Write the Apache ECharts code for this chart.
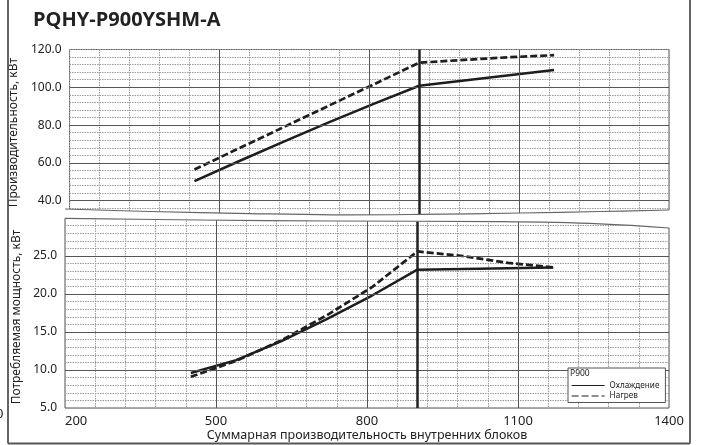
<!DOCTYPE html>
<html><head><meta charset="utf-8">
<script src="https://cdn.jsdelivr.net/npm/echarts@6/dist/echarts.min.js"></script>
<style>html,body{margin:0;padding:0;background:#fff}#c{width:701px;height:445px}</style>
</head><body><div id="c"></div>
<script>
// ---- data ----
const title = 'PQHY-P900YSHM-A';
const xValues = [450, 540, 630, 720, 810, 900, 990, 1080, 1170];
const capCooling = [50.4, 61.0, 71.4, 81.6, 91.4, 100.8, 103.6, 106.4, 109.2];
const capHeating = [56.5, 67.8, 79.1, 90.4, 101.7, 113.0, 114.5, 115.9, 117.0];
const powCooling = [9.6, 11.3, 13.8, 16.7, 19.8, 23.2, 23.3, 23.4, 23.5];
const powHeating = [9.1, 11.2, 13.9, 17.2, 20.9, 25.6, 25.0, 24.1, 23.5];
const xTicks = [200, 500, 800, 1100, 1400];
const capTicks = [40, 60, 80, 100, 120];
const powTicks = [5, 10, 15, 20, 25];
const modelCapacity = 900;
const seriesNames = ['Охлаждение', 'Нагрев'];
const legendTitle = 'P900';
const xName = 'Суммарная производительность внутренних блоков';
const capName = 'Производительность, кВт';
const powName = 'Потребляемая мощность, кВт';

// ---- build ----
const X0 = xTicks[0];
const XMAX = xTicks[xTicks.length - 1];
const pairs = ys => xValues.map((x, i) => [x - X0, ys[i]]);
const FONT = 'Noto Sans';
const dotted = {color: '#9c9c9c', width: 1, type: [1.5, 1]};
const major = {color: '#555', width: 1, type: 'solid'};
const thick = {color: '#222', width: 2.5, type: 'solid'};

function xMarks() {
  return xTicks.slice(1, -1).map(v => ({xAxis: v - X0, lineStyle: major}))
    .concat([{xAxis: modelCapacity - X0, lineStyle: thick}]);
}
function helper(xi, ys, yTicksInner) {
  return {
    type: 'line', xAxisIndex: xi, yAxisIndex: xi, data: pairs(ys), z: 1,
    symbol: 'none', silent: true, lineStyle: {opacity: 0}, tooltip: {show: false},
    markLine: {
      silent: true, symbol: 'none', label: {show: false}, animation: false,
      data: yTicksInner.map(v => ({yAxis: v, lineStyle: major})).concat(xMarks())
    }
  };
}
function dataSeries(xi, name, ys, dashed) {
  return {
    type: 'line', name: name, xAxisIndex: xi, yAxisIndex: xi, data: pairs(ys), z: 3,
    symbol: 'none', smooth: false,
    lineStyle: {color: '#1e1e1e', width: dashed ? 2.7 : 2.5, type: dashed ? [7, 3] : 'solid'},
    itemStyle: {color: '#1e1e1e'}
  };
}
function xAxisCfg(gi, showLabels) {
  return {
    gridIndex: gi, type: 'value', min: 0, max: XMAX - X0, interval: 60,
    axisLine: {show: false}, axisTick: {show: false},
    splitLine: {show: true, lineStyle: dotted},
    axisLabel: {
      show: showLabels, margin: 7, fontSize: 13, color: '#222', fontFamily: FONT,
      alignMinLabel: 'left',
      formatter: v => (xTicks.indexOf(v + X0) >= 0 ? String(v + X0) : '')
    },
    name: showLabels ? xName : '', nameLocation: 'middle', nameGap: 20,
    nameTextStyle: {fontSize: 12.5, color: '#222', fontFamily: FONT}
  };
}

const L = 65, R = 669;
const chart = echarts.init(document.getElementById('c'), null, {renderer: 'canvas'});
const topCurve = [[L, 209], [150, 211.5], [250, 213.6], [333, 214.8], [420, 214.4], [520, 213], [600, 211.5], [R, 210]];
const botCurve = [[L, 218.3], [200, 220], [333, 221], [500, 221.7], [600, 223.8], [R, 228]];
const cover = topCurve.concat(botCurve.slice().reverse()).map(p => p.slice());
cover[0][0] = L - 1; cover[topCurve.length - 1][0] = R + 1;
cover[topCurve.length][0] = R + 1; cover[cover.length - 1][0] = L - 1;

chart.setOption({
  animation: false,
  textStyle: {fontFamily: FONT},
  grid: [
    {left: L, right: 701 - R, top: 49.5, height: 166.3, show: true, borderColor: '#555', borderWidth: 1, backgroundColor: 'transparent'},
    {left: L, right: 701 - R, top: 218, height: 190, show: true, borderColor: '#555', borderWidth: 1, backgroundColor: 'transparent'}
  ],
  xAxis: [xAxisCfg(0, false), xAxisCfg(1, true)],
  yAxis: [
    {
      gridIndex: 0, type: 'value', min: 32, max: 120, interval: 4,
      axisLine: {show: false}, axisTick: {show: false},
      splitLine: {show: true, lineStyle: dotted},
      axisLabel: {margin: 8, fontSize: 12, color: '#222', fontFamily: FONT,
        formatter: v => (capTicks.indexOf(v) >= 0 ? v.toFixed(1) : '')},
      name: capName, nameLocation: 'middle', nameGap: 37,
      nameTextStyle: {fontSize: 12, color: '#222', fontFamily: FONT}
    },
    {
      gridIndex: 1, type: 'value', min: 5, max: 30, interval: 1,
      axisLine: {show: false}, axisTick: {show: false},
      splitLine: {show: true, lineStyle: dotted},
      axisLabel: {margin: 8, fontSize: 12, color: '#222', fontFamily: FONT,
        formatter: v => (powTicks.indexOf(v) >= 0 ? v.toFixed(1) : '')},
      name: powName, nameLocation: 'middle', nameGap: 37,
      nameTextStyle: {fontSize: 12, color: '#222', fontFamily: FONT, padding: [0, 8, 0, 0]}
    }
  ],
  legend: {
    show: true, left: 568, top: 368, orient: 'vertical', selectedMode: false,
    padding: [13, 6, 2, 3], itemGap: 1.5, itemWidth: 33, itemHeight: 8,
    backgroundColor: '#fff', borderColor: '#555', borderWidth: 1, borderRadius: 0,
    textStyle: {fontSize: 8.2, color: '#222', fontFamily: FONT, lineHeight: 9},
    lineStyle: {width: 1.2},
    itemStyle: {opacity: 0},
    data: seriesNames, z: 20
  },
  series: [
    helper(0, capCooling, capTicks.slice(0, -1)),
    helper(1, powCooling, powTicks.slice(1)),
    dataSeries(0, seriesNames[0], capCooling, false),
    dataSeries(0, seriesNames[1], capHeating, true),
    dataSeries(1, seriesNames[0], powCooling, false),
    dataSeries(1, seriesNames[1], powHeating, true)
  ],
  graphic: [
    {type: 'polygon', shape: {points: cover}, style: {fill: '#fff'}, z: 50, silent: true},
    {type: 'polyline', shape: {points: topCurve, smooth: 0.4}, style: {stroke: '#666', lineWidth: 1.2, fill: null}, z: 51, silent: true},
    {type: 'polyline', shape: {points: botCurve, smooth: 0.4}, style: {stroke: '#666', lineWidth: 1.2, fill: null}, z: 51, silent: true},
    {type: 'line', shape: {x1: 8, y1: 0, x2: 8, y2: 443.5}, style: {stroke: '#555', lineWidth: 1.8}, z: 51, silent: true},
    {type: 'line', shape: {x1: 690, y1: 0, x2: 690, y2: 443.5}, style: {stroke: '#555', lineWidth: 1.8}, z: 51, silent: true},
    {type: 'line', shape: {x1: 8, y1: 443.5, x2: 690, y2: 443.5}, style: {stroke: '#555', lineWidth: 1.8}, z: 51, silent: true},
    {type: 'text', left: 33, top: 10, style: {text: title, font: 'bold 20px "Open Sans"', fill: '#222'}, z: 60, silent: true},
    {type: 'text', left: 570, top: 369.5, style: {text: legendTitle, font: '8.5px "Noto Sans"', fill: '#222'}, z: 60, silent: true},
    {type: 'text', left: -4, top: 408, style: {text: '0', font: '13px "Noto Sans"', fill: '#222'}, z: 60, silent: true}
  ]
});
</script>
</body></html>
